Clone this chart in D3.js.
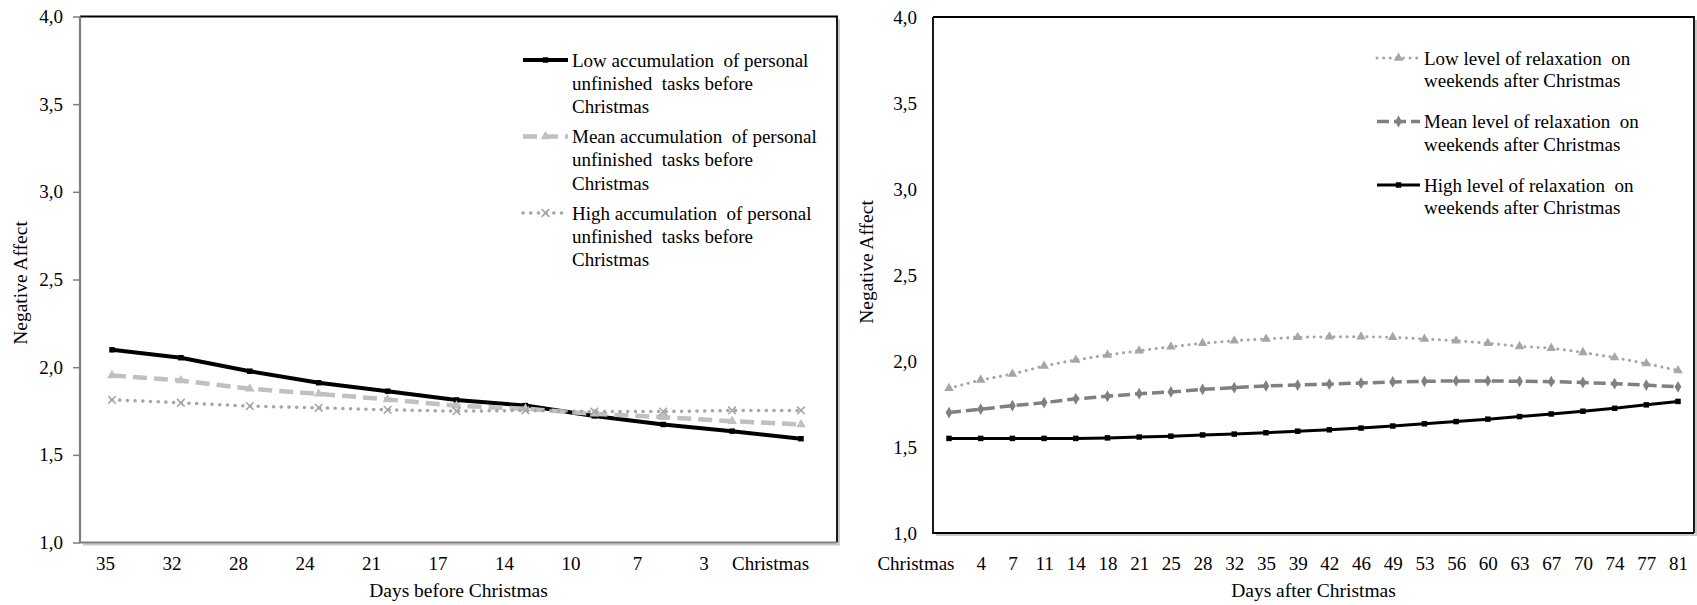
<!DOCTYPE html>
<html><head><meta charset="utf-8">
<script src="https://cdn.jsdelivr.net/npm/d3@7"></script>
<style>
body{margin:0;background:#fff}
svg{display:block}
text{font-family:'Liberation Serif','Times New Roman',serif;fill:#000;white-space:pre}
</style>
</head><body>
<svg id="c" width="1697" height="605"></svg>
<script>
// ---------- DATA ----------
const beforeCategories = ["35","32","28","24","21","17","14","10","7","3","Christmas"];
const beforeLow  = [2.099,2.054,1.977,1.911,1.863,1.813,1.781,1.722,1.673,1.635,1.592];
const beforeMean = [1.953,1.924,1.877,1.848,1.816,1.780,1.763,1.734,1.715,1.692,1.673];
const beforeHigh = [1.814,1.797,1.778,1.768,1.757,1.749,1.753,1.747,1.747,1.753,1.753];

const afterCategories = ["Christmas","4","7","11","14","18","21","25","28","32","35","39","42","46","49","53","56","60","63","67","70","74","77","81"];
const afterLow  = [1.841,1.890,1.924,1.971,2.006,2.035,2.060,2.083,2.103,2.118,2.128,2.138,2.141,2.141,2.138,2.128,2.118,2.103,2.085,2.075,2.050,2.020,1.985,1.945];
const afterMean = [1.700,1.720,1.740,1.758,1.780,1.795,1.810,1.820,1.835,1.845,1.855,1.860,1.866,1.872,1.878,1.882,1.884,1.884,1.882,1.880,1.875,1.868,1.860,1.850];
const afterHigh = [1.550,1.550,1.550,1.550,1.550,1.553,1.558,1.563,1.570,1.575,1.583,1.592,1.600,1.610,1.622,1.635,1.648,1.662,1.677,1.692,1.708,1.725,1.745,1.765];

const yTickValues = [1.0,1.5,2.0,2.5,3.0,3.5,4.0];
const yTickLabels = ["1,0","1,5","2,0","2,5","3,0","3,5","4,0"];

const beforeLegend = [
  ["Low accumulation  of personal","unfinished  tasks before","Christmas"],
  ["Mean accumulation  of personal","unfinished  tasks before","Christmas"],
  ["High accumulation  of personal","unfinished  tasks before","Christmas"]
];
const afterLegend = [
  ["Low level of relaxation  on","weekends after Christmas"],
  ["Mean level of relaxation  on","weekends after Christmas"],
  ["High level of relaxation  on","weekends after Christmas"]
];
const yTitle = "Negative Affect";
const beforeXTitle = "Days before Christmas";
const afterXTitle = "Days after Christmas";

// ---------- DRAW ----------
const svg = d3.select("#c");
const FS = 19;

const xMarker = d3.symbolX || {draw(ctx,size){const r=Math.sqrt(size)/2;ctx.moveTo(-r,-r);ctx.lineTo(r,r);ctx.moveTo(r,-r);ctx.lineTo(-r,r);}};

function drawPanel(cfg){
  const g = svg.append("g");
  const y = d3.scaleLinear().domain([1,4]).range([cfg.bottom, cfg.top]);
  const x = d3.scalePoint().domain(cfg.categories).range([cfg.px0, cfg.px1]);
  const xl = d3.scalePoint().domain(cfg.categories).range([cfg.lx0, cfg.lx1]);

  // shadow
  g.append("path").attr("d", `M${cfg.left+3},${cfg.bottom+2}H${cfg.right+2}V${cfg.top+3}`)
    .attr("fill","none").attr("stroke","#c8c8c8").attr("stroke-width",2);
  // frame
  g.append("path").attr("d", `M${cfg.left},${cfg.top}H${cfg.right}V${cfg.bottom}`)
    .attr("fill","none").attr("stroke","#000").attr("stroke-width",1.8);
  g.append("path").attr("d", `M${cfg.left},${cfg.top}V${cfg.bottom}H${cfg.right}`)
    .attr("fill","none").attr("stroke",cfg.axisColor).attr("stroke-width",cfg.axisWidth);

  // y axis
  const ya = d3.axisLeft(y).tickValues(yTickValues)
    .tickFormat((d,i)=>yTickLabels[i]).tickSize(cfg.tickSize).tickPadding(cfg.tickPad);
  const yg = g.append("g").attr("transform",`translate(${cfg.left},0)`).call(ya);
  yg.select(".domain").remove();
  yg.selectAll("line").attr("stroke",cfg.axisColor).attr("stroke-width",1.5);
  yg.selectAll("text").attr("font-size",FS).attr("font-family",null).attr("fill","#000");

  // x axis labels
  const xa = d3.axisBottom(xl).tickSize(0).tickPadding(cfg.xPad);
  const xg = g.append("g").attr("transform",`translate(0,${cfg.bottom})`).call(xa);
  xg.select(".domain").remove();
  xg.selectAll("text").attr("font-size",FS).attr("font-family",null).attr("fill","#000");
  if (cfg.xLabelFix) cfg.xLabelFix(xg);

  // titles
  g.append("text").attr("transform",`translate(${cfg.yTitleX},${cfg.yTitleY}) rotate(-90)`)
    .attr("text-anchor","middle").attr("dy","0.35em").attr("font-size",19.5).text(yTitle);
  g.append("text").attr("x",(cfg.left+cfg.right)/2).attr("y",cfg.xTitleY)
    .attr("text-anchor","middle").attr("dy","0.35em").attr("font-size",19.5).text(cfg.xTitle);

  // series
  cfg.series.forEach((s)=>{
    const line = d3.line().x((d,i)=>x(cfg.categories[i])).y(d=>y(d));
    g.append("path").datum(s.values).attr("d",line).attr("fill","none")
      .attr("stroke",s.color).attr("stroke-width",s.width)
      .attr("stroke-dasharray",s.dash||null).attr("stroke-linecap",s.cap||"butt")
      .attr("stroke-linejoin","round");
    const sym = d3.symbol().type(s.symbol).size(s.size);
    g.selectAll(null).data(s.values).enter().append("path")
      .attr("transform",(d,i)=>`translate(${x(cfg.categories[i])},${y(d)}) rotate(${s.rot||0})`)
      .attr("d",sym)
      .attr("fill",s.stroked?"none":s.color)
      .attr("stroke",s.stroked?s.color:"none").attr("stroke-width",s.stroked?1.6:0);
  });

  // legend
  cfg.series.forEach((s,k)=>{
    const ly = cfg.legY + k*cfg.legStep;
    g.append("line").attr("x1",cfg.legX).attr("x2",cfg.legX+cfg.legLen).attr("y1",ly).attr("y2",ly)
      .attr("stroke",s.color).attr("stroke-width",s.width)
      .attr("stroke-dasharray",s.dash||null).attr("stroke-linecap",s.cap||"butt");
    g.append("path").attr("transform",`translate(${cfg.legX+cfg.legLen/2},${ly}) rotate(${s.rot||0})`)
      .attr("d",d3.symbol().type(s.symbol).size(s.size))
      .attr("fill",s.stroked?"none":s.color)
      .attr("stroke",s.stroked?s.color:"none").attr("stroke-width",s.stroked?1.6:0);
    const t = g.append("text").attr("x",cfg.legX+cfg.legLen+4).attr("y",ly).attr("dy","0.35em").attr("font-size",FS);
    cfg.legend[k].forEach((ln,j)=>{
      t.append("tspan").attr("x",cfg.legX+cfg.legLen+4).attr("y",ly+j*cfg.legLine).attr("dy","0.35em").text(ln);
    });
  });
}

drawPanel({
  categories: beforeCategories,
  left:80, right:837, top:16.5, bottom:542.5,
  px0:112, px1:801, lx0:105, lx1:770,
  axisColor:"#7f7f7f", axisWidth:2.2, tickSize:7, tickPad:10, xPad:14,
  yTitleX:20, yTitleY:283, xTitleY:590, xTitle:beforeXTitle,
  legend: beforeLegend, legX:523, legLen:45, legY:60, legStep:76.5, legLine:23.3,
  series:[
    {values:beforeLow, color:"#000", width:4, symbol:d3.symbolSquare, size:30},
    {values:beforeMean, color:"#c0c0c0", width:4.5, dash:"14,7", symbol:d3.symbolTriangle, size:40},
    {values:beforeHigh, color:"#a6a6a6", width:3.5, dash:"0.1,7.6", cap:"round", symbol:xMarker, size:40, stroked:true}
  ]
});

drawPanel({
  categories: afterCategories,
  left:933, right:1694, top:17, bottom:533,
  px0:949, px1:1678, lx0:949, lx1:1678,
  axisColor:"#000", axisWidth:1.8, tickSize:0, tickPad:16, xPad:24,
  yTitleX:866, yTitleY:262, xTitleY:590, xTitle:afterXTitle,
  xLabelFix: g => g.selectAll(".tick text").filter(d=>d==="Christmas").attr("text-anchor","end").attr("x",5),
  legend: afterLegend, legX:1377, legLen:43, legY:58, legStep:63.5, legLine:22.5,
  series:[
    {values:afterLow, color:"#a6a6a6", width:3, dash:"0.1,6.5", cap:"round", symbol:d3.symbolTriangle, size:40},
    {values:afterMean, color:"#808080", width:3.5, dash:"12,5", symbol:d3.symbolDiamond, size:40},
    {values:afterHigh, color:"#000", width:3, symbol:d3.symbolSquare, size:30}
  ]
});
</script>
</body></html>
